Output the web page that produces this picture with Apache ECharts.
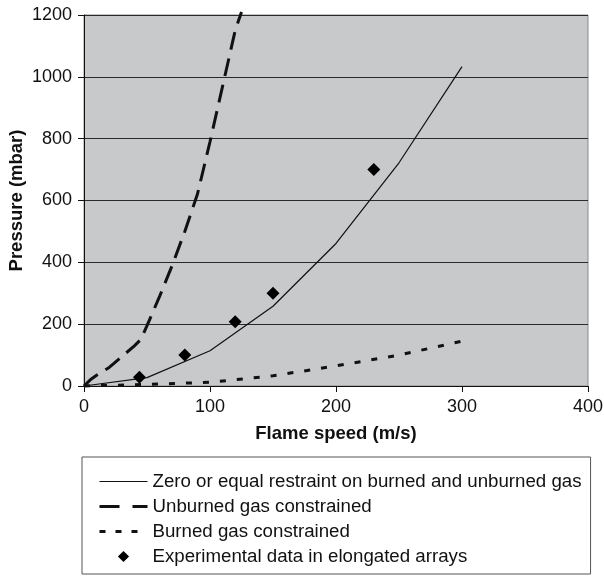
<!DOCTYPE html>
<html>
<head>
<meta charset="utf-8">
<script src="https://cdn.jsdelivr.net/npm/echarts@6/dist/echarts.min.js"></script>
<style>
html,body{margin:0;padding:0;background:#fff;}
#c{width:604px;height:577px;}
</style>
</head>
<body>
<div id="c"></div>
<script>
const xTicks = [0, 100, 200, 300, 400];
const yTicks = [0, 200, 400, 600, 800, 1000, 1200];
const seriesNames = [
  'Zero or equal restraint on burned and unburned gas',
  'Unburned gas constrained',
  'Burned gas constrained',
  'Experimental data in elongated arrays'
];
const zeroX = [0, 50, 100, 150, 200, 250, 300];
const zeroY = [0, 27, 114, 258, 461, 722, 1033];
const unburnedX = [0, 5, 10, 20, 30, 40, 45, 50, 60, 70, 80, 90, 100, 110, 120, 125];
const unburnedY = [0, 20, 35, 60, 95, 130, 150, 195, 290, 390, 500, 620, 790, 970, 1150, 1210];
const burnedX = [0, 20, 50, 100, 150, 200, 250, 300];
const burnedY = [0, 2, 5, 12, 33, 65, 100, 145];
const expX = [44, 80, 120, 150, 230];
const expY = [28, 100, 208, 300, 700];

const zip = (a, b) => a.map((v, i) => [v, b[i]]);
const FONT = '"Liberation Sans", Arial, sans-serif';
const noSym = {color: 'rgba(0,0,0,0)', borderWidth: 0, borderColor: 'rgba(0,0,0,0)'};

const chart = echarts.init(document.getElementById('c'), null, {renderer: 'canvas'});
chart.setOption({
  animation: false,
  backgroundColor: '#ffffff',
  textStyle: {fontFamily: FONT},
  grid: {
    left: 84, right: 16, top: 15, bottom: 191,
    containLabel: false, outerBoundsMode: 'none',
    show: true, backgroundColor: '#c8c9cb', borderColor: '#8a8a8a', borderWidth: 1
  },
  xAxis: {
    type: 'value', min: xTicks[0], max: xTicks[xTicks.length - 1], interval: 100,
    name: 'Flame speed (m/s)', nameLocation: 'middle', nameGap: 38, nameMoveOverlap: false,
    nameTextStyle: {fontFamily: FONT, fontSize: 18.5, fontWeight: 'bold', color: '#111'},
    axisLine: {show: true, lineStyle: {color: '#111', width: 1}},
    axisTick: {show: true, inside: false, length: 6, lineStyle: {color: '#111'}},
    axisLabel: {fontFamily: FONT, fontSize: 18, color: '#111', margin: 12, formatter: v => String(v)},
    splitLine: {show: false}
  },
  yAxis: {
    type: 'value', min: yTicks[0], max: yTicks[yTicks.length - 1], interval: 200,
    name: 'Pressure (mbar)', nameLocation: 'middle', nameGap: 58, nameMoveOverlap: false,
    nameTextStyle: {fontFamily: FONT, fontSize: 18.5, fontWeight: 'bold', color: '#111'},
    axisLine: {show: true, lineStyle: {color: '#111', width: 1}},
    axisTick: {show: true, inside: false, length: 6, lineStyle: {color: '#111'}},
    axisLabel: {fontFamily: FONT, fontSize: 18, color: '#111', margin: 12, formatter: v => String(v)},
    splitLine: {show: true, lineStyle: {color: '#2a2a2a', width: 1}}
  },
  legend: {
    orient: 'vertical', left: 82, top: 457,
    padding: [15, 9, 8, 16],
    borderColor: '#555', borderWidth: 1,
    itemWidth: 48, itemHeight: 14, itemGap: 6,
    textStyle: {fontFamily: FONT, fontSize: 18.7, color: '#111'},
    data: [
      {name: seriesNames[0], icon: 'inherit', itemStyle: noSym, lineStyle: {width: 1.2, type: 'solid', color: '#111'}},
      {name: seriesNames[1], icon: 'inherit', itemStyle: noSym, lineStyle: {width: 3, type: [20, 13], color: '#111'}},
      {name: seriesNames[2], icon: 'inherit', itemStyle: noSym, lineStyle: {width: 3, type: [6, 10], color: '#111'}},
      {name: seriesNames[3], icon: 'inherit', itemStyle: {color: '#000'}, lineStyle: {width: 0, opacity: 0}}
    ]
  },
  series: [
    {
      name: seriesNames[0], type: 'line', data: zip(zeroX, zeroY),
      symbol: 'none', showSymbol: false, clip: false,
      lineStyle: {color: '#111', width: 1.2, type: 'solid'}, itemStyle: {color: '#111'}
    },
    {
      name: seriesNames[1], type: 'line', data: zip(unburnedX, unburnedY),
      symbol: 'none', showSymbol: false, clip: false,
      lineStyle: {color: '#111', width: 3, type: [18, 9]}, itemStyle: {color: '#111'}
    },
    {
      name: seriesNames[2], type: 'line', data: zip(burnedX, burnedY),
      symbol: 'none', showSymbol: false, clip: false,
      lineStyle: {color: '#111', width: 3, type: [6, 11]}, itemStyle: {color: '#111'}
    },
    {
      name: seriesNames[3], type: 'line', data: zip(expX, expY),
      symbol: 'diamond', symbolSize: 13, showSymbol: true, showAllSymbol: true,
      lineStyle: {width: 0, opacity: 0}, itemStyle: {color: '#000', borderWidth: 0}
    }
  ]
});
</script>
</body>
</html>
